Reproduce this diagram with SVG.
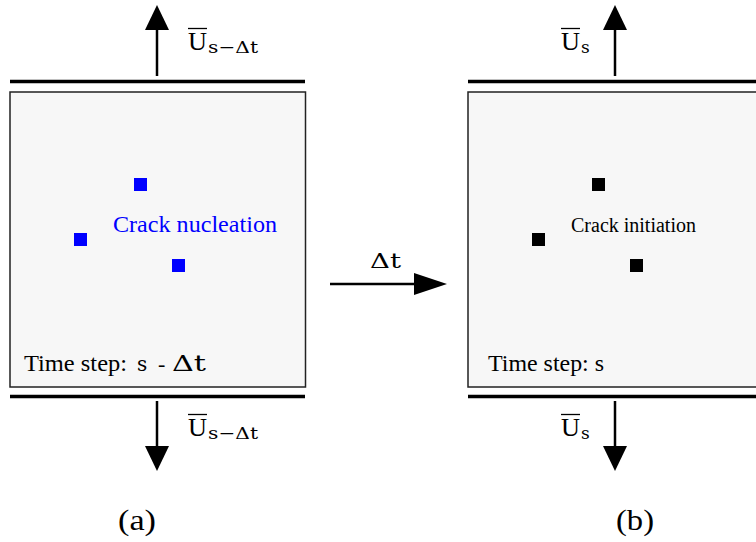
<svg xmlns="http://www.w3.org/2000/svg" width="756" height="542" viewBox="0 0 756 542">
<style>
.box{fill:#f7f7f7;stroke:#222;stroke-width:1.5}
.plate{stroke:#000;stroke-width:3.5}
.ar{stroke:#000;stroke-width:2.5;fill:none}
.t{font-family:"Liberation Serif","DejaVu Serif",serif;fill:#000}
.m{font-family:"DejaVu Serif","Liberation Serif",serif;fill:#000}
.ol{stroke:#000;stroke-width:1.3}
</style>
<rect width="756" height="542" fill="#fff"/>
<g id="panel-a">
<line class="plate" x1="10" y1="81.5" x2="305" y2="81.5"/>
<rect class="box" x="10" y="92" width="295.5" height="295"/>
<line class="plate" x1="10" y1="396.5" x2="305" y2="396.5"/>
<rect x="134" y="178" width="13" height="13" fill="#0000ff"/>
<rect x="74" y="233" width="13" height="13" fill="#0000ff"/>
<rect x="172" y="259" width="13" height="13" fill="#0000ff"/>
<text class="t" x="113" y="232" font-size="23" textLength="164" lengthAdjust="spacingAndGlyphs" style="fill:#0000ff">Crack nucleation</text>
<text class="t" x="24" y="371" font-size="23" textLength="103" lengthAdjust="spacingAndGlyphs">Time step:</text>
<text class="m" x="137" y="371" font-size="20">s</text>
<text class="t" x="158" y="371" font-size="22">-</text>
<text class="m" x="172" y="371" font-size="22" textLength="34" lengthAdjust="spacingAndGlyphs">Δt</text>
<text class="t" x="137" y="530" font-size="30" text-anchor="middle" textLength="38" lengthAdjust="spacingAndGlyphs">(a)</text>
</g>
<g id="panel-b">
<line class="plate" x1="468" y1="81.5" x2="756" y2="81.5"/>
<rect class="box" x="468" y="92" width="300" height="295"/>
<line class="plate" x1="468" y1="396.5" x2="756" y2="396.5"/>
<rect x="592" y="178" width="13" height="13" fill="#000"/>
<rect x="532" y="233" width="13" height="13" fill="#000"/>
<rect x="630" y="259" width="13" height="13" fill="#000"/>
<text class="t" x="571" y="232" font-size="20">Crack initiation</text>
<text class="t" x="488" y="371" font-size="23" textLength="116" lengthAdjust="spacingAndGlyphs">Time step: s</text>
<text class="t" x="635" y="530" font-size="30" text-anchor="middle" textLength="38" lengthAdjust="spacingAndGlyphs">(b)</text>
</g>
<g id="labels">
<line class="ol" x1="188" y1="28.5" x2="207" y2="28.5"/>
<text class="t" x="188" y="50" font-size="25" textLength="19" lengthAdjust="spacingAndGlyphs">U</text>
<text class="m" x="208" y="53" font-size="17" textLength="50" lengthAdjust="spacingAndGlyphs">s−Δt</text>
<line class="ol" x1="188" y1="414.5" x2="207" y2="414.5"/>
<text class="t" x="188" y="436" font-size="25" textLength="19" lengthAdjust="spacingAndGlyphs">U</text>
<text class="m" x="208" y="439" font-size="17" textLength="50" lengthAdjust="spacingAndGlyphs">s−Δt</text>
<line class="ol" x1="561" y1="28.5" x2="580" y2="28.5"/>
<text class="t" x="561" y="50" font-size="25" textLength="19" lengthAdjust="spacingAndGlyphs">U</text>
<text class="m" x="581" y="53" font-size="17">s</text>
<line class="ol" x1="561" y1="414.5" x2="580" y2="414.5"/>
<text class="t" x="561" y="436" font-size="25" textLength="19" lengthAdjust="spacingAndGlyphs">U</text>
<text class="m" x="581" y="439" font-size="17">s</text>
<text class="m" x="370" y="268" font-size="20" textLength="31" lengthAdjust="spacingAndGlyphs">Δt</text>
</g>
<g id="connectors">
<line class="ar" x1="157" y1="76" x2="157" y2="28"/>
<path d="M157,5 L145,30 L169,30 Z" fill="#000"/>
<line class="ar" x1="157" y1="401" x2="157" y2="448"/>
<path d="M157,471 L145,446 L169,446 Z" fill="#000"/>
<line class="ar" x1="615" y1="76" x2="615" y2="28"/>
<path d="M615,5 L603,30 L627,30 Z" fill="#000"/>
<line class="ar" x1="615" y1="401" x2="615" y2="448"/>
<path d="M615,471 L603,446 L627,446 Z" fill="#000"/>
<line class="ar" x1="330" y1="284" x2="420" y2="284"/>
<path d="M447,284 L414,273 L414,295 Z" fill="#000"/>
</g>
</svg>
